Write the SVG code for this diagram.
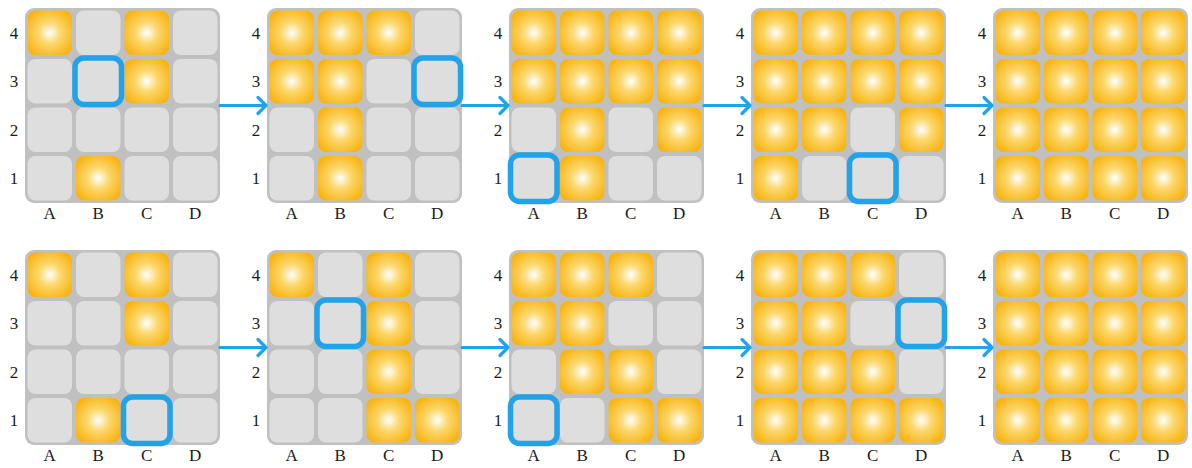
<svg xmlns="http://www.w3.org/2000/svg" width="1192" height="468" viewBox="0 0 1192 468">
<style>
.bg{fill:#c0c0c0}
.lb{font-family:"Liberation Serif","DejaVu Serif",serif;font-size:17px;fill:#1a1a1a;text-anchor:middle}
.hl{fill:none;stroke:#22a2e8;stroke-width:5.5}
.arr{fill:none;stroke:#22a2e8;stroke-width:3.2;stroke-linecap:round;stroke-linejoin:round}
</style>
<defs>
<radialGradient id="glow" cx="0.5" cy="0.5" r="0.6">
<stop offset="0" stop-color="#ffffff"/>
<stop offset="0.4" stop-color="#fcd86e"/>
<stop offset="1" stop-color="#f8b310"/>
</radialGradient>
<rect id="g" width="44.5" height="44.5" rx="8" fill="#dedede"/>
<rect id="o" width="44.5" height="44.5" rx="8" fill="url(#glow)"/>
</defs>

<!-- Top row -->
<g id="t1" transform="translate(25,8)">
<rect class="bg" width="195" height="195" rx="9"/>
<use href="#o" x="2.5" y="2.5"/><use href="#g" x="51" y="2.5"/><use href="#o" x="99.5" y="2.5"/><use href="#g" x="148" y="2.5"/>
<use href="#g" x="2.5" y="51"/><use href="#g" x="51" y="51"/><use href="#o" x="99.5" y="51"/><use href="#g" x="148" y="51"/>
<use href="#g" x="2.5" y="99.5"/><use href="#g" x="51" y="99.5"/><use href="#g" x="99.5" y="99.5"/><use href="#g" x="148" y="99.5"/>
<use href="#g" x="2.5" y="148"/><use href="#o" x="51" y="148"/><use href="#g" x="99.5" y="148"/><use href="#g" x="148" y="148"/>
<rect class="hl" x="50" y="50" width="46.5" height="46.5" rx="9"/>
<text class="lb" x="-11" y="30.5">4</text><text class="lb" x="-11" y="79">3</text><text class="lb" x="-11" y="127.5">2</text><text class="lb" x="-11" y="176">1</text>
<text class="lb" x="24.75" y="211">A</text><text class="lb" x="73.25" y="211">B</text><text class="lb" x="121.75" y="211">C</text><text class="lb" x="170.25" y="211">D</text>
</g>
<g id="t2" transform="translate(267,8)">
<rect class="bg" width="195" height="195" rx="9"/>
<use href="#o" x="2.5" y="2.5"/><use href="#o" x="51" y="2.5"/><use href="#o" x="99.5" y="2.5"/><use href="#g" x="148" y="2.5"/>
<use href="#o" x="2.5" y="51"/><use href="#o" x="51" y="51"/><use href="#g" x="99.5" y="51"/><use href="#g" x="148" y="51"/>
<use href="#g" x="2.5" y="99.5"/><use href="#o" x="51" y="99.5"/><use href="#g" x="99.5" y="99.5"/><use href="#g" x="148" y="99.5"/>
<use href="#g" x="2.5" y="148"/><use href="#o" x="51" y="148"/><use href="#g" x="99.5" y="148"/><use href="#g" x="148" y="148"/>
<rect class="hl" x="147" y="50" width="46.5" height="46.5" rx="9"/>
<text class="lb" x="-11" y="30.5">4</text><text class="lb" x="-11" y="79">3</text><text class="lb" x="-11" y="127.5">2</text><text class="lb" x="-11" y="176">1</text>
<text class="lb" x="24.75" y="211">A</text><text class="lb" x="73.25" y="211">B</text><text class="lb" x="121.75" y="211">C</text><text class="lb" x="170.25" y="211">D</text>
</g>
<g id="t3" transform="translate(509,8)">
<rect class="bg" width="195" height="195" rx="9"/>
<use href="#o" x="2.5" y="2.5"/><use href="#o" x="51" y="2.5"/><use href="#o" x="99.5" y="2.5"/><use href="#o" x="148" y="2.5"/>
<use href="#o" x="2.5" y="51"/><use href="#o" x="51" y="51"/><use href="#o" x="99.5" y="51"/><use href="#o" x="148" y="51"/>
<use href="#g" x="2.5" y="99.5"/><use href="#o" x="51" y="99.5"/><use href="#g" x="99.5" y="99.5"/><use href="#o" x="148" y="99.5"/>
<use href="#g" x="2.5" y="148"/><use href="#o" x="51" y="148"/><use href="#g" x="99.5" y="148"/><use href="#g" x="148" y="148"/>
<rect class="hl" x="1.5" y="147" width="46.5" height="46.5" rx="9"/>
<text class="lb" x="-11" y="30.5">4</text><text class="lb" x="-11" y="79">3</text><text class="lb" x="-11" y="127.5">2</text><text class="lb" x="-11" y="176">1</text>
<text class="lb" x="24.75" y="211">A</text><text class="lb" x="73.25" y="211">B</text><text class="lb" x="121.75" y="211">C</text><text class="lb" x="170.25" y="211">D</text>
</g>
<g id="t4" transform="translate(751,8)">
<rect class="bg" width="195" height="195" rx="9"/>
<use href="#o" x="2.5" y="2.5"/><use href="#o" x="51" y="2.5"/><use href="#o" x="99.5" y="2.5"/><use href="#o" x="148" y="2.5"/>
<use href="#o" x="2.5" y="51"/><use href="#o" x="51" y="51"/><use href="#o" x="99.5" y="51"/><use href="#o" x="148" y="51"/>
<use href="#o" x="2.5" y="99.5"/><use href="#o" x="51" y="99.5"/><use href="#g" x="99.5" y="99.5"/><use href="#o" x="148" y="99.5"/>
<use href="#o" x="2.5" y="148"/><use href="#g" x="51" y="148"/><use href="#g" x="99.5" y="148"/><use href="#g" x="148" y="148"/>
<rect class="hl" x="98.5" y="147" width="46.5" height="46.5" rx="9"/>
<text class="lb" x="-11" y="30.5">4</text><text class="lb" x="-11" y="79">3</text><text class="lb" x="-11" y="127.5">2</text><text class="lb" x="-11" y="176">1</text>
<text class="lb" x="24.75" y="211">A</text><text class="lb" x="73.25" y="211">B</text><text class="lb" x="121.75" y="211">C</text><text class="lb" x="170.25" y="211">D</text>
</g>
<g id="t5" transform="translate(993,8)">
<rect class="bg" width="195" height="195" rx="9"/>
<use href="#o" x="2.5" y="2.5"/><use href="#o" x="51" y="2.5"/><use href="#o" x="99.5" y="2.5"/><use href="#o" x="148" y="2.5"/>
<use href="#o" x="2.5" y="51"/><use href="#o" x="51" y="51"/><use href="#o" x="99.5" y="51"/><use href="#o" x="148" y="51"/>
<use href="#o" x="2.5" y="99.5"/><use href="#o" x="51" y="99.5"/><use href="#o" x="99.5" y="99.5"/><use href="#o" x="148" y="99.5"/>
<use href="#o" x="2.5" y="148"/><use href="#o" x="51" y="148"/><use href="#o" x="99.5" y="148"/><use href="#o" x="148" y="148"/>
<text class="lb" x="-11" y="30.5">4</text><text class="lb" x="-11" y="79">3</text><text class="lb" x="-11" y="127.5">2</text><text class="lb" x="-11" y="176">1</text>
<text class="lb" x="24.75" y="211">A</text><text class="lb" x="73.25" y="211">B</text><text class="lb" x="121.75" y="211">C</text><text class="lb" x="170.25" y="211">D</text>
</g>

<!-- Bottom row -->
<g id="b1" transform="translate(25,250)">
<rect class="bg" width="195" height="195" rx="9"/>
<use href="#o" x="2.5" y="2.5"/><use href="#g" x="51" y="2.5"/><use href="#o" x="99.5" y="2.5"/><use href="#g" x="148" y="2.5"/>
<use href="#g" x="2.5" y="51"/><use href="#g" x="51" y="51"/><use href="#o" x="99.5" y="51"/><use href="#g" x="148" y="51"/>
<use href="#g" x="2.5" y="99.5"/><use href="#g" x="51" y="99.5"/><use href="#g" x="99.5" y="99.5"/><use href="#g" x="148" y="99.5"/>
<use href="#g" x="2.5" y="148"/><use href="#o" x="51" y="148"/><use href="#g" x="99.5" y="148"/><use href="#g" x="148" y="148"/>
<rect class="hl" x="98.5" y="147" width="46.5" height="46.5" rx="9"/>
<text class="lb" x="-11" y="30.5">4</text><text class="lb" x="-11" y="79">3</text><text class="lb" x="-11" y="127.5">2</text><text class="lb" x="-11" y="176">1</text>
<text class="lb" x="24.75" y="211">A</text><text class="lb" x="73.25" y="211">B</text><text class="lb" x="121.75" y="211">C</text><text class="lb" x="170.25" y="211">D</text>
</g>
<g id="b2" transform="translate(267,250)">
<rect class="bg" width="195" height="195" rx="9"/>
<use href="#o" x="2.5" y="2.5"/><use href="#g" x="51" y="2.5"/><use href="#o" x="99.5" y="2.5"/><use href="#g" x="148" y="2.5"/>
<use href="#g" x="2.5" y="51"/><use href="#g" x="51" y="51"/><use href="#o" x="99.5" y="51"/><use href="#g" x="148" y="51"/>
<use href="#g" x="2.5" y="99.5"/><use href="#g" x="51" y="99.5"/><use href="#o" x="99.5" y="99.5"/><use href="#g" x="148" y="99.5"/>
<use href="#g" x="2.5" y="148"/><use href="#g" x="51" y="148"/><use href="#o" x="99.5" y="148"/><use href="#o" x="148" y="148"/>
<rect class="hl" x="50" y="50" width="46.5" height="46.5" rx="9"/>
<text class="lb" x="-11" y="30.5">4</text><text class="lb" x="-11" y="79">3</text><text class="lb" x="-11" y="127.5">2</text><text class="lb" x="-11" y="176">1</text>
<text class="lb" x="24.75" y="211">A</text><text class="lb" x="73.25" y="211">B</text><text class="lb" x="121.75" y="211">C</text><text class="lb" x="170.25" y="211">D</text>
</g>
<g id="b3" transform="translate(509,250)">
<rect class="bg" width="195" height="195" rx="9"/>
<use href="#o" x="2.5" y="2.5"/><use href="#o" x="51" y="2.5"/><use href="#o" x="99.5" y="2.5"/><use href="#g" x="148" y="2.5"/>
<use href="#o" x="2.5" y="51"/><use href="#o" x="51" y="51"/><use href="#g" x="99.5" y="51"/><use href="#g" x="148" y="51"/>
<use href="#g" x="2.5" y="99.5"/><use href="#o" x="51" y="99.5"/><use href="#o" x="99.5" y="99.5"/><use href="#g" x="148" y="99.5"/>
<use href="#g" x="2.5" y="148"/><use href="#g" x="51" y="148"/><use href="#o" x="99.5" y="148"/><use href="#o" x="148" y="148"/>
<rect class="hl" x="1.5" y="147" width="46.5" height="46.5" rx="9"/>
<text class="lb" x="-11" y="30.5">4</text><text class="lb" x="-11" y="79">3</text><text class="lb" x="-11" y="127.5">2</text><text class="lb" x="-11" y="176">1</text>
<text class="lb" x="24.75" y="211">A</text><text class="lb" x="73.25" y="211">B</text><text class="lb" x="121.75" y="211">C</text><text class="lb" x="170.25" y="211">D</text>
</g>
<g id="b4" transform="translate(751,250)">
<rect class="bg" width="195" height="195" rx="9"/>
<use href="#o" x="2.5" y="2.5"/><use href="#o" x="51" y="2.5"/><use href="#o" x="99.5" y="2.5"/><use href="#g" x="148" y="2.5"/>
<use href="#o" x="2.5" y="51"/><use href="#o" x="51" y="51"/><use href="#g" x="99.5" y="51"/><use href="#g" x="148" y="51"/>
<use href="#o" x="2.5" y="99.5"/><use href="#o" x="51" y="99.5"/><use href="#o" x="99.5" y="99.5"/><use href="#g" x="148" y="99.5"/>
<use href="#o" x="2.5" y="148"/><use href="#o" x="51" y="148"/><use href="#o" x="99.5" y="148"/><use href="#o" x="148" y="148"/>
<rect class="hl" x="147" y="50" width="46.5" height="46.5" rx="9"/>
<text class="lb" x="-11" y="30.5">4</text><text class="lb" x="-11" y="79">3</text><text class="lb" x="-11" y="127.5">2</text><text class="lb" x="-11" y="176">1</text>
<text class="lb" x="24.75" y="211">A</text><text class="lb" x="73.25" y="211">B</text><text class="lb" x="121.75" y="211">C</text><text class="lb" x="170.25" y="211">D</text>
</g>
<g id="b5" transform="translate(993,250)">
<rect class="bg" width="195" height="195" rx="9"/>
<use href="#o" x="2.5" y="2.5"/><use href="#o" x="51" y="2.5"/><use href="#o" x="99.5" y="2.5"/><use href="#o" x="148" y="2.5"/>
<use href="#o" x="2.5" y="51"/><use href="#o" x="51" y="51"/><use href="#o" x="99.5" y="51"/><use href="#o" x="148" y="51"/>
<use href="#o" x="2.5" y="99.5"/><use href="#o" x="51" y="99.5"/><use href="#o" x="99.5" y="99.5"/><use href="#o" x="148" y="99.5"/>
<use href="#o" x="2.5" y="148"/><use href="#o" x="51" y="148"/><use href="#o" x="99.5" y="148"/><use href="#o" x="148" y="148"/>
<text class="lb" x="-11" y="30.5">4</text><text class="lb" x="-11" y="79">3</text><text class="lb" x="-11" y="127.5">2</text><text class="lb" x="-11" y="176">1</text>
<text class="lb" x="24.75" y="211">A</text><text class="lb" x="73.25" y="211">B</text><text class="lb" x="121.75" y="211">C</text><text class="lb" x="170.25" y="211">D</text>
</g>

<g id="connectors">
<path class="arr" d="M220,105.5 H265.5 M258,97.5 L266,105.5 L258,113.5"/>
<path class="arr" d="M462,105.5 H507.5 M500,97.5 L508,105.5 L500,113.5"/>
<path class="arr" d="M704,105.5 H749.5 M742,97.5 L750,105.5 L742,113.5"/>
<path class="arr" d="M946,105.5 H991.5 M984,97.5 L992,105.5 L984,113.5"/>
<path class="arr" d="M220,347.5 H265.5 M258,339.5 L266,347.5 L258,355.5"/>
<path class="arr" d="M462,347.5 H507.5 M500,339.5 L508,347.5 L500,355.5"/>
<path class="arr" d="M704,347.5 H749.5 M742,339.5 L750,347.5 L742,355.5"/>
<path class="arr" d="M946,347.5 H991.5 M984,339.5 L992,347.5 L984,355.5"/>
</g>
</svg>
